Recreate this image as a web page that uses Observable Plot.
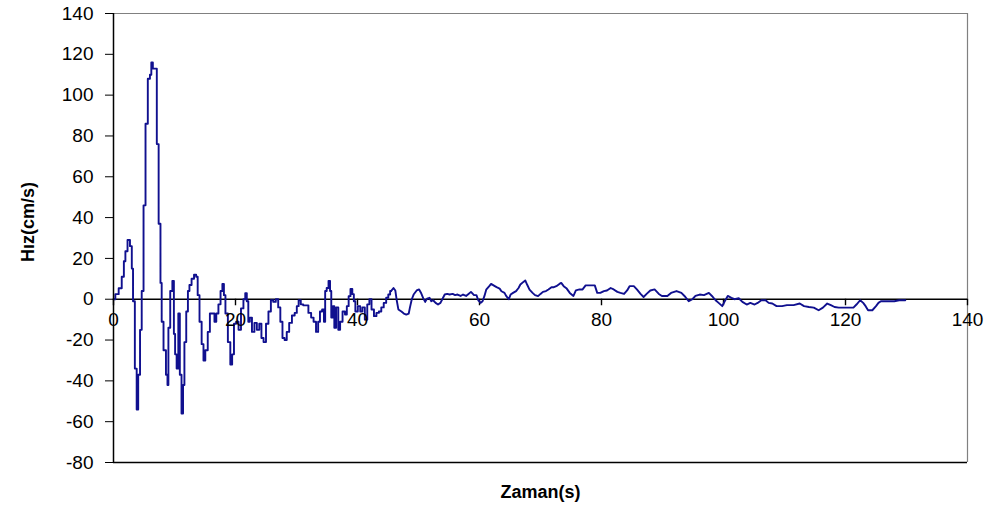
<!DOCTYPE html>
<html>
<head>
<meta charset="utf-8">
<script src="https://cdn.jsdelivr.net/npm/d3@7"></script>
<script src="https://cdn.jsdelivr.net/npm/@observablehq/plot@0.6"></script>
<style>
  html, body { margin: 0; padding: 0; background: #ffffff; }
  #chart svg { display: block; }
</style>
</head>
<body>
<div id="chart"></div>
<script>
const time = [0,0.6,1.1,1.6,1.8,2.1,2.5,2.9,3.1,3.3,3.7,3.9,4.2,4.5,4.75,5.1,5.4,5.85,6.1,6.3,6.6,7.0,7.2,7.6,7.8,8.0,8.4,8.8,8.9,9.1,9.5,9.8,10.0,10.2,10.5,10.75,11.0,11.3,11.5,11.75,12.1,12.3,12.6,13.0,13.4,13.7,13.9,14.3,14.6,14.9,15.2,15.7,15.9,16.4,16.7,17.0,17.4,17.7,18.0,18.2,18.5,19.0,19.3,19.6,19.9,20.3,20.7,21.1,21.5,21.7,22.0,22.2,22.5,22.9,23.3,23.7,24.1,24.4,24.8,25.2,25.6,26.0,26.4,26.8,27.2,27.5,27.9,28.2,28.6,29.0,29.5,29.9,30.2,30.5,30.9,31.3,31.7,32.2,32.6,33.0,33.4,33.7,34.0,34.4,34.6,34.8,35.1,35.4,35.6,35.8,36.1,36.3,36.7,37.0,37.3,37.8,38.1,38.4,38.7,39.0,39.3,39.5,39.8,40.3,40.6,41.0,41.4,41.8,42.1,42.5,42.9,43.3,43.7,44.1,44.5,44.9,45.2,45.5,45.9,46.2,46.4,46.7,47.2,47.6,48.0,48.4,48.6,48.9,49.2,49.7,50.1,50.4,50.8,51.1,51.4,51.8,52.1,52.4,52.8,53.2,53.6,53.9,54.3,54.7,55.1,55.6,56.0,56.4,56.9,57.3,57.8,58.2,58.6,59.1,59.5,59.8,60.2,60.5,60.8,61.1,61.6,61.9,62.3,62.8,63.3,63.6,64.1,64.4,64.8,65.1,65.5,66.0,66.4,66.7,67.2,67.5,67.8,68.2,68.7,69.1,69.6,70.0,70.4,70.9,71.3,71.8,72.2,72.6,73.1,73.4,73.8,74.3,74.8,75.4,75.8,76.4,76.9,77.4,78.1,78.9,79.3,79.8,80.4,80.9,81.5,82.0,82.6,83.1,83.7,84.2,84.6,85.3,85.8,86.4,86.9,87.4,88.0,88.7,89.4,89.9,90.8,91.4,92.3,93.1,93.6,94.3,94.9,95.4,96.1,96.8,97.6,98.1,98.7,99.2,99.8,100.2,100.7,101.3,101.8,102.5,103.1,103.8,104.4,105.1,105.6,106.2,106.9,107.4,108.0,108.7,109.6,110.4,111.5,112.5,113.2,114.0,114.8,115.6,116.3,117.0,117.6,118.2,118.9,119.7,120.5,121.3,121.8,122.4,122.9,123.3,123.7,124.4,125.0,125.4,125.8,126.4,127.2,128.0,128.8,129.8];
const velocity = [0,2.5,5.4,11,18.6,23.5,29,26,15,-1,-34,-54,-37,-15,4,46,86,108,110,116,113,113,76,37,8,-11,-25,-37,-42,-14,4,9,-17,-27,-34,-7,-37,-56,-42,-21,-6,4,7,10,12,11,2,-11,-22,-30,-25,-16,-7,-7,-11,-7,-2.5,4,7.5,2,-7,-21,-32,-27,-12,-11,-15,-4.5,0,3,-1,-11,-9,-16,-11.6,-15,-12,-19,-21,-12,-6,-0.5,-1.3,0,-4,-11,-19,-20,-16,-11.6,-8,-6.7,-3.4,-0.5,-2.5,-3,-3,-6.7,-9,-11,-16,-11,-6,-5,-11,4,5.5,9,4,-9,-3.4,-14,-4,-15,-11,-6,-7.5,-3.4,1.5,5,2.5,-1,-6,-3.4,-6,-4,-10,-2.5,0,-5,-8.3,-6.7,-6,-4,-1.8,0.7,2.3,4,5.5,4.3,0,-5,-6,-7,-7.5,-7,-4,0,2.3,4.3,4.8,3.2,0.3,-1.3,0.3,0.7,-1,-0.5,-1.8,-2.6,-1.8,0,2.3,2.6,2.3,2.6,2,2.3,1.6,2.3,1.6,2.6,3.6,2,2,-0.5,-1.8,-1,1.5,4.7,6.4,7.5,6.8,5.9,5.2,3.9,3.1,1.5,0,2.3,3.1,4,5.5,7.2,8.5,9.2,7.2,4.7,3.1,2,1.5,2.6,3.6,4,4.8,5.9,5.9,6.4,7.5,8,6.4,5.2,3.1,1.6,4.3,4.8,4.8,6.8,6.8,6.8,3.1,3.1,4,4.3,5.5,4.8,3.6,3.1,2.6,4.3,6.4,6.4,4.8,2.6,1.1,2.6,4.3,4.8,2.6,1.6,1.6,3.1,4,3.1,1.6,-1,0,1.6,2.3,2,3.1,1.6,-0.5,-1.8,-3.4,-1,1.6,0.7,0,0.5,-1.3,-2.6,-1.8,-2.6,-1.8,-0.5,-0.5,-1.8,-2.1,-3.4,-3.4,-2.9,-2.9,-2.1,-3.4,-3.8,-4.1,-5.4,-4.1,-2.1,-2.9,-3.8,-4.1,-4.1,-4.1,-4.1,-2.6,-0.5,-1.8,-3.4,-5.4,-5.4,-3.4,-1.8,-1,-1,-1,-1,-0.5,-0.5];
const xTicks = [0, 20, 40, 60, 80, 100, 120, 140];
const yTicks = [-80, -60, -40, -20, 0, 20, 40, 60, 80, 100, 120, 140];
const xTitle = "Zaman(s)";
const yTitle = "Hız(cm/s)";

const data = time.map((t, i) => ({t, v: velocity[i]}));
const xMin = 0, xMax = 140, yMin = -80, yMax = 140;
const splitT = 45.5;

const chart = Plot.plot({
  width: 992,
  height: 525,
  marginLeft: 113,
  marginRight: 25,
  marginTop: 13,
  marginBottom: 63,
  style: {fontFamily: "'Liberation Sans', Arial, sans-serif", background: "#ffffff"},
  x: {domain: [xMin, xMax], axis: null},
  y: {domain: [yMin, yMax], axis: null},
  marks: [
    Plot.ruleY([yMax], {stroke: "#808080", strokeWidth: 1.2}),
    Plot.ruleX([xMax], {stroke: "#808080", strokeWidth: 1.2}),
    Plot.ruleY([yMin], {stroke: "#000", strokeWidth: 1.4}),
    Plot.ruleY([0], {stroke: "#000", strokeWidth: 1.5}),
    Plot.ruleX(xTicks, {x: d => d, y1: 0, y2: -3.2, stroke: "#000", strokeWidth: 1.4}),
    Plot.line(data, {filter: d => d.t <= splitT, x: "t", y: "v", curve: "step", stroke: "#10108f", strokeWidth: 1.9}),
    Plot.line(data, {filter: d => d.t >= splitT, x: "t", y: "v", stroke: "#10108f", strokeWidth: 1.9}),
    Plot.axisY({ticks: yTicks, tickFormat: d => String(d), tickSize: 8, tickPadding: 12, fontSize: 19, label: null, stroke: "#000", color: "#000"}),
    Plot.ruleX([xMin], {stroke: "#000", strokeWidth: 1.5}),
    Plot.text(xTicks, {x: d => d, y: 0, dy: 21, text: d => String(d), fontSize: 19, fill: "#000"}),
    Plot.text([xTitle], {frameAnchor: "bottom", dy: 35, text: d => d, fontSize: 18, fontWeight: "bold", fill: "#000"}),
    Plot.text([yTitle], {frameAnchor: "left", dx: -85, dy: 24, rotate: -90, text: d => d, fontSize: 18, fontWeight: "bold", fill: "#000"})
  ]
});
document.getElementById("chart").appendChild(chart);
</script>
</body>
</html>
